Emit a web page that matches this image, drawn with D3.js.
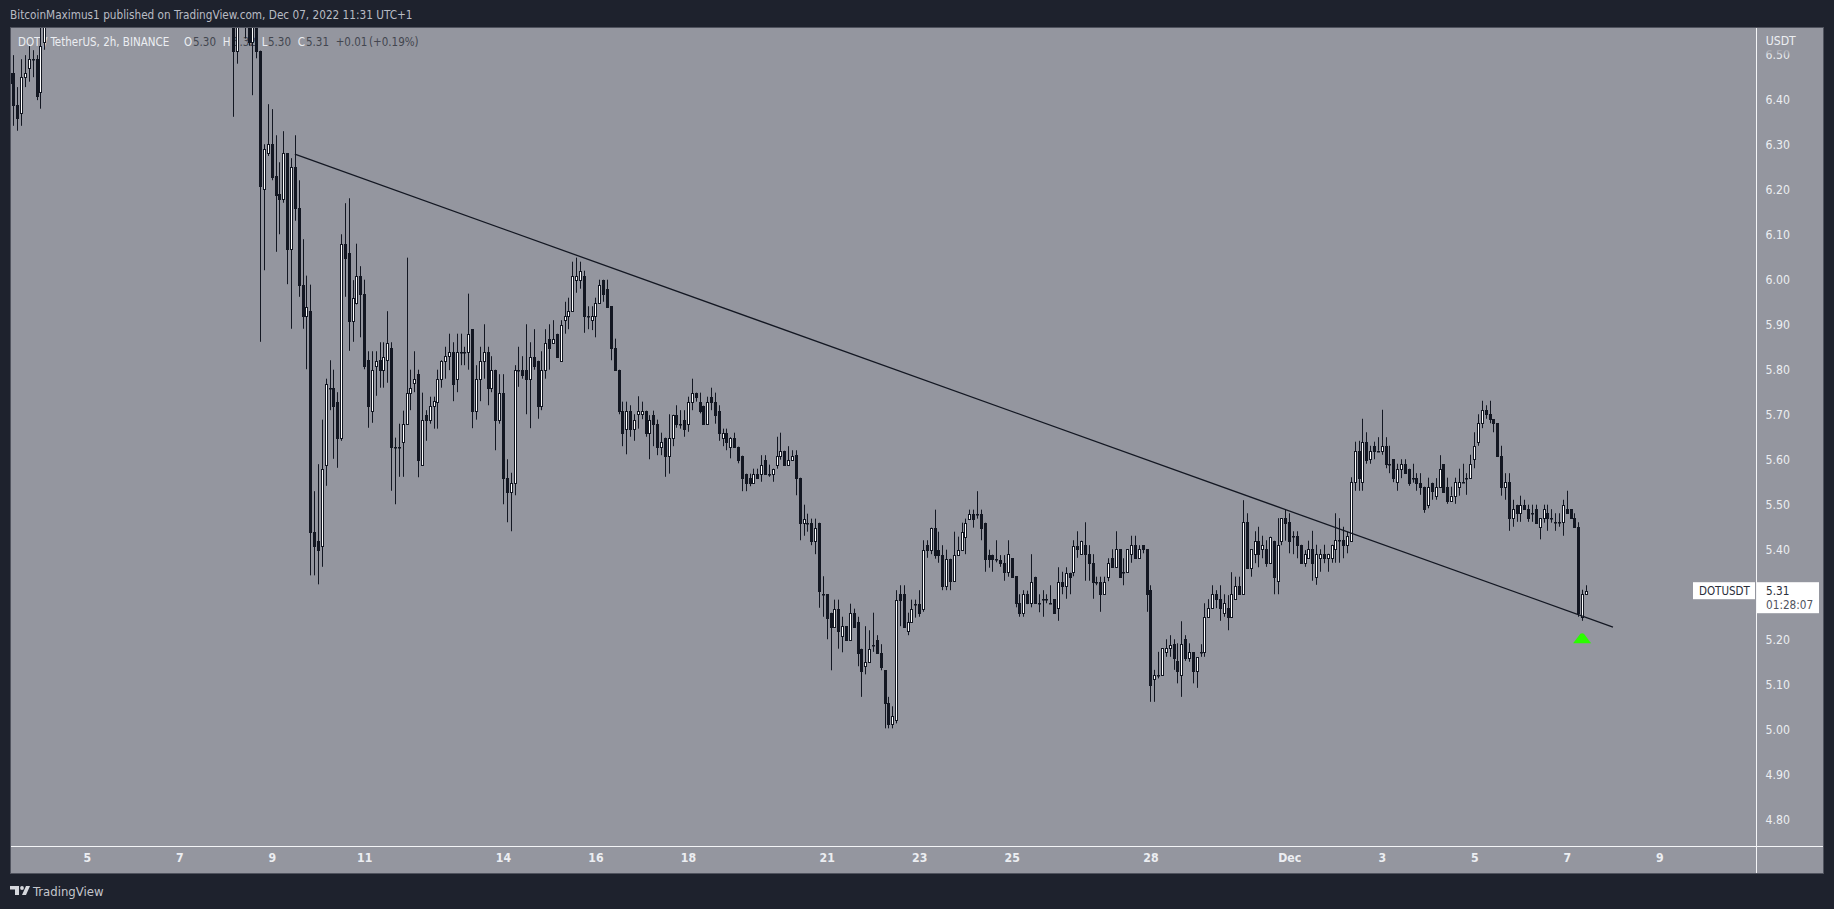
<!DOCTYPE html>
<html>
<head>
<meta charset="utf-8">
<script src="https://cdn.jsdelivr.net/npm/d3@7"></script>
<style>
  html, body { margin: 0; padding: 0; background: #1e222d; }
  svg { display: block; }
  text { font-family: "DejaVu Sans Condensed", "DejaVu Sans", sans-serif; }
</style>
</head>
<body>
<svg id="chart" width="1834" height="909"></svg>
<script>
// 2h candles, two visible runs (everything between them sits above the top of the chart)
const firstRunStart = Date.UTC(2022, 10, 3, 8)
const secondRunStart = Date.UTC(2022, 10, 8, 4)
const firstRunLength = 10
const twoHours = 2 * 3600 * 1000

const opens = [
  6.438,6.459,6.388,6.370,6.450,6.470,6.490,6.490,6.418,6.529,
  6.700,6.509,6.700,6.700,6.650,6.529,6.650,6.509,6.201,6.281,6.301,6.230,
  6.190,6.180,6.281,6.069,6.250,6.160,5.989,5.920,5.930,5.440,
  5.420,5.409,5.589,5.760,5.760,5.729,5.649,6.080,6.060,5.909,
  5.949,6.009,5.969,5.821,5.709,5.809,5.821,5.800,5.821,5.849,
  5.629,5.629,5.640,5.680,5.749,5.770,5.790,5.589,5.700,5.689,
  5.720,5.729,5.780,5.820,5.830,5.840,5.780,5.840,5.840,5.840,
  5.890,5.709,5.780,5.820,5.840,5.760,5.800,5.688,5.749,5.560,
  5.529,5.549,5.800,5.800,5.800,5.780,5.829,5.820,5.720,5.800,
  5.869,5.860,5.880,5.820,5.910,5.920,5.930,6.000,6.000,6.009,
  5.920,5.910,5.920,5.949,6.000,5.980,5.941,5.849,5.800,5.709,
  5.669,5.709,5.669,5.701,5.701,5.709,5.660,5.700,5.680,5.629,
  5.649,5.609,5.649,5.700,5.680,5.689,5.680,5.729,5.749,5.729,
  5.720,5.680,5.740,5.729,5.709,5.649,5.660,5.629,5.649,5.629,
  5.609,5.569,5.560,5.549,5.569,5.569,5.600,5.569,5.569,5.589,
  5.609,5.620,5.589,5.600,5.610,5.560,5.460,5.460,5.460,5.420,
  5.460,5.301,5.301,5.260,5.229,5.269,5.209,5.230,5.200,5.260,
  5.240,5.180,5.141,5.151,5.189,5.200,5.171,5.132,5.060,5.012,
  5.021,5.301,5.301,5.220,5.240,5.280,5.280,5.269,5.410,5.400,
  5.449,5.400,5.389,5.320,5.380,5.330,5.389,5.399,5.429,5.469,
  5.480,5.480,5.480,5.460,5.389,5.389,5.380,5.378,5.370,5.350,
  5.381,5.341,5.281,5.260,5.301,5.281,5.340,5.281,5.290,5.290,
  5.281,5.290,5.270,5.329,5.320,5.349,5.350,5.409,5.390,5.410,
  5.390,5.370,5.329,5.329,5.301,5.340,5.381,5.361,5.401,5.350,
  5.350,5.390,5.410,5.381,5.410,5.401,5.310,5.112,5.121,5.121,
  5.172,5.181,5.190,5.152,5.121,5.201,5.160,5.172,5.131,5.172,
  5.172,5.250,5.270,5.301,5.290,5.260,5.270,5.250,5.290,5.320,
  5.301,5.461,5.360,5.390,5.420,5.401,5.401,5.370,5.420,5.330,
  5.420,5.470,5.461,5.430,5.430,5.411,5.370,5.381,5.401,5.340,
  5.381,5.391,5.381,5.381,5.401,5.422,5.422,5.410,5.420,5.550,
  5.620,5.550,5.640,5.601,5.631,5.620,5.620,5.631,5.590,5.601,
  5.550,5.580,5.590,5.580,5.560,5.560,5.549,5.540,5.500,5.549,
  5.520,5.540,5.590,5.540,5.509,5.520,5.540,5.550,5.560,5.560,
  5.601,5.640,5.681,5.711,5.701,5.690,5.681,5.609,5.540,5.550,
  5.470,5.500,5.481,5.500,5.490,5.481,5.490,5.450,5.470,5.481,
  5.470,5.461,5.461,5.461,5.490,5.490,5.470,5.450,5.250,5.301
]
const highs = [
  6.481,6.499,6.428,6.490,6.499,6.519,6.510,6.499,6.561,6.700,
  6.700,6.720,6.750,6.750,6.680,6.700,6.680,6.509,6.301,6.390,6.379,6.321,
  6.261,6.330,6.281,6.270,6.321,6.221,6.090,6.009,5.989,5.530,
  5.590,5.689,5.780,5.821,5.800,5.750,6.101,6.170,6.181,5.999,
  6.080,6.030,6.000,5.841,5.841,5.841,5.861,5.861,5.930,5.861,
  5.649,5.680,5.709,6.049,5.800,5.841,5.800,5.749,5.710,5.740,
  5.740,5.800,5.821,5.851,5.880,5.861,5.880,5.880,5.851,5.969,
  5.890,5.810,5.851,5.901,5.851,5.830,5.800,5.790,5.790,5.601,
  5.571,5.810,5.851,5.830,5.901,5.861,5.890,5.820,5.841,5.890,
  5.901,5.910,5.880,5.910,5.951,5.960,6.040,6.049,6.040,6.020,
  5.941,5.941,5.960,6.000,6.000,6.000,5.941,5.869,5.800,5.729,
  5.729,5.721,5.701,5.741,5.729,5.709,5.699,5.709,5.689,5.660,
  5.649,5.701,5.700,5.721,5.710,5.710,5.740,5.780,5.749,5.749,
  5.720,5.740,5.760,5.749,5.721,5.669,5.669,5.650,5.660,5.629,
  5.609,5.569,5.569,5.580,5.580,5.610,5.610,5.589,5.580,5.651,
  5.660,5.620,5.630,5.621,5.621,5.560,5.500,5.480,5.469,5.469,
  5.460,5.341,5.301,5.260,5.289,5.289,5.251,5.230,5.280,5.269,
  5.251,5.180,5.230,5.221,5.260,5.210,5.190,5.132,5.073,5.052,
  5.310,5.321,5.321,5.260,5.289,5.289,5.310,5.421,5.421,5.449,
  5.489,5.440,5.410,5.400,5.380,5.440,5.429,5.460,5.469,5.489,
  5.489,5.530,5.489,5.460,5.400,5.389,5.421,5.388,5.388,5.421,
  5.381,5.341,5.301,5.310,5.309,5.390,5.340,5.301,5.310,5.301,
  5.321,5.290,5.361,5.351,5.361,5.349,5.421,5.441,5.420,5.461,
  5.410,5.390,5.340,5.340,5.340,5.381,5.401,5.441,5.401,5.381,
  5.401,5.431,5.431,5.410,5.410,5.401,5.321,5.133,5.173,5.181,
  5.201,5.210,5.201,5.192,5.241,5.210,5.192,5.172,5.161,5.190,
  5.281,5.290,5.321,5.310,5.321,5.301,5.299,5.350,5.340,5.340,
  5.510,5.481,5.401,5.441,5.451,5.431,5.421,5.429,5.420,5.470,
  5.470,5.490,5.481,5.441,5.441,5.411,5.399,5.420,5.442,5.411,
  5.401,5.411,5.391,5.411,5.481,5.470,5.451,5.440,5.561,5.640,
  5.642,5.691,5.661,5.631,5.640,5.650,5.711,5.650,5.631,5.601,
  5.591,5.601,5.601,5.580,5.591,5.570,5.570,5.540,5.560,5.549,
  5.559,5.610,5.590,5.560,5.540,5.560,5.580,5.591,5.570,5.611,
  5.661,5.701,5.731,5.721,5.731,5.690,5.681,5.631,5.570,5.570,
  5.511,5.500,5.520,5.511,5.500,5.500,5.500,5.470,5.500,5.500,
  5.490,5.481,5.481,5.511,5.531,5.490,5.481,5.461,5.311,5.321
]
const lows = [
  6.411,6.342,6.331,6.342,6.428,6.440,6.450,6.399,6.380,6.511,
  6.362,6.480,6.650,6.536,6.520,6.410,6.492,5.862,6.021,6.275,6.221,6.062,
  6.101,6.171,5.990,5.891,6.131,5.962,5.891,5.801,5.343,5.343,
  5.323,5.362,5.542,5.710,5.602,5.582,5.642,5.962,5.842,5.862,
  5.945,5.872,5.801,5.671,5.682,5.742,5.760,5.760,5.771,5.531,
  5.501,5.562,5.562,5.680,5.710,5.750,5.561,5.589,5.642,5.680,
  5.669,5.669,5.760,5.780,5.799,5.730,5.750,5.810,5.810,5.800,
  5.670,5.689,5.730,5.780,5.721,5.750,5.621,5.680,5.501,5.461,
  5.441,5.521,5.762,5.780,5.701,5.670,5.800,5.691,5.710,5.780,
  5.800,5.860,5.829,5.820,5.880,5.890,5.930,5.971,5.980,5.882,
  5.890,5.888,5.872,5.949,5.951,5.940,5.821,5.800,5.701,5.630,
  5.612,5.651,5.642,5.669,5.690,5.651,5.601,5.630,5.610,5.610,
  5.562,5.569,5.630,5.671,5.669,5.651,5.662,5.710,5.729,5.703,
  5.680,5.680,5.710,5.680,5.642,5.630,5.621,5.603,5.629,5.592,
  5.530,5.530,5.541,5.549,5.560,5.551,5.569,5.562,5.551,5.580,
  5.600,5.589,5.589,5.600,5.521,5.421,5.431,5.440,5.410,5.390,
  5.271,5.251,5.201,5.132,5.229,5.180,5.172,5.200,5.200,5.229,
  5.141,5.073,5.123,5.151,5.173,5.171,5.132,5.003,5.003,5.003,
  5.014,5.230,5.229,5.210,5.240,5.249,5.251,5.262,5.382,5.390,
  5.380,5.371,5.310,5.310,5.310,5.330,5.390,5.399,5.390,5.469,
  5.449,5.469,5.421,5.351,5.360,5.351,5.372,5.362,5.331,5.340,
  5.338,5.272,5.251,5.251,5.279,5.272,5.281,5.261,5.251,5.281,
  5.279,5.260,5.242,5.301,5.291,5.301,5.341,5.382,5.390,5.331,
  5.331,5.291,5.321,5.262,5.301,5.330,5.361,5.361,5.340,5.321,
  5.350,5.371,5.381,5.381,5.392,5.262,5.062,5.062,5.114,5.121,
  5.162,5.162,5.133,5.103,5.073,5.153,5.151,5.103,5.093,5.162,
  5.162,5.250,5.270,5.270,5.242,5.251,5.221,5.250,5.290,5.301,
  5.301,5.360,5.340,5.370,5.361,5.381,5.362,5.370,5.301,5.301,
  5.410,5.420,5.392,5.390,5.381,5.370,5.362,5.381,5.331,5.322,
  5.351,5.370,5.351,5.371,5.371,5.371,5.381,5.392,5.420,5.531,
  5.531,5.531,5.591,5.591,5.601,5.620,5.611,5.581,5.570,5.550,
  5.531,5.559,5.570,5.542,5.549,5.531,5.522,5.482,5.492,5.511,
  5.511,5.540,5.529,5.502,5.520,5.502,5.520,5.550,5.522,5.560,
  5.581,5.631,5.670,5.691,5.681,5.661,5.609,5.520,5.511,5.442,
  5.451,5.462,5.462,5.490,5.462,5.462,5.460,5.423,5.460,5.442,
  5.460,5.442,5.451,5.431,5.481,5.470,5.450,5.251,5.242,5.301
]
const closes = [
  6.459,6.388,6.360,6.450,6.459,6.490,6.490,6.408,6.519,6.650,
  6.509,6.700,6.720,6.650,6.529,6.650,6.509,6.209,6.290,6.301,6.229,6.189,
  6.180,6.281,6.069,6.250,6.160,5.989,5.920,5.940,5.440,5.409,
  5.399,5.580,5.769,5.760,5.720,5.649,6.080,6.049,5.909,5.960,
  6.009,5.969,5.809,5.720,5.800,5.820,5.800,5.829,5.860,5.629,
  5.629,5.629,5.680,5.749,5.760,5.780,5.599,5.689,5.688,5.720,
  5.730,5.780,5.820,5.830,5.840,5.769,5.840,5.840,5.840,5.880,
  5.709,5.780,5.820,5.840,5.760,5.800,5.688,5.749,5.560,5.529,
  5.549,5.800,5.800,5.789,5.780,5.829,5.809,5.720,5.799,5.860,
  5.849,5.869,5.829,5.900,5.920,5.930,6.009,6.009,6.020,5.920,
  5.920,5.920,5.949,5.989,5.969,5.940,5.849,5.800,5.709,5.660,
  5.709,5.669,5.689,5.709,5.709,5.660,5.688,5.680,5.629,5.640,
  5.609,5.649,5.700,5.680,5.680,5.669,5.729,5.749,5.740,5.709,
  5.680,5.729,5.729,5.700,5.660,5.660,5.640,5.649,5.629,5.599,
  5.560,5.549,5.549,5.569,5.560,5.589,5.569,5.569,5.580,5.609,
  5.620,5.589,5.600,5.609,5.560,5.460,5.469,5.460,5.420,5.449,
  5.309,5.301,5.249,5.229,5.269,5.220,5.230,5.200,5.260,5.229,
  5.171,5.131,5.151,5.180,5.189,5.171,5.140,5.060,5.012,5.031,
  5.289,5.289,5.229,5.240,5.269,5.280,5.260,5.400,5.400,5.449,
  5.389,5.389,5.319,5.380,5.330,5.389,5.399,5.440,5.460,5.479,
  5.469,5.480,5.449,5.380,5.380,5.380,5.380,5.370,5.350,5.390,
  5.340,5.281,5.260,5.301,5.281,5.329,5.281,5.281,5.290,5.290,
  5.281,5.260,5.329,5.320,5.349,5.340,5.409,5.401,5.420,5.390,
  5.370,5.329,5.329,5.301,5.329,5.370,5.361,5.401,5.340,5.350,
  5.401,5.410,5.381,5.401,5.401,5.301,5.100,5.121,5.121,5.181,
  5.181,5.189,5.160,5.131,5.190,5.160,5.172,5.131,5.161,5.172,
  5.250,5.270,5.301,5.290,5.270,5.281,5.250,5.301,5.320,5.301,
  5.461,5.360,5.401,5.420,5.390,5.410,5.370,5.429,5.340,5.410,
  5.470,5.460,5.420,5.430,5.410,5.370,5.391,5.401,5.370,5.391,
  5.391,5.381,5.391,5.411,5.422,5.422,5.410,5.431,5.550,5.620,
  5.560,5.640,5.599,5.620,5.620,5.620,5.631,5.590,5.590,5.560,
  5.580,5.590,5.570,5.549,5.560,5.549,5.540,5.490,5.540,5.531,
  5.540,5.580,5.529,5.509,5.520,5.550,5.550,5.550,5.560,5.590,
  5.631,5.681,5.711,5.701,5.690,5.681,5.609,5.540,5.550,5.470,
  5.490,5.481,5.500,5.490,5.470,5.481,5.460,5.470,5.490,5.470,
  5.470,5.461,5.461,5.500,5.481,5.470,5.450,5.259,5.301,5.309
]

const dateTicks = [[2022,10,5],[2022,10,7],[2022,10,9],[2022,10,11],[2022,10,14],[2022,10,16],[2022,10,18],[2022,10,21],[2022,10,23],[2022,10,25],[2022,10,28],[2022,11,1],[2022,11,3],[2022,11,5],[2022,11,7],[2022,11,9]]
const dateLabels = ['5','7','9','11','14','16','18','21','23','25','28','Dec','3','5','7','9']
// 5.30 is left out, the last price tag covers it
const priceTicks = [6.5,6.4,6.3,6.2,6.1,6.0,5.9,5.8,5.7,5.6,5.5,5.4,5.2,5.1,5.0,4.9,4.8]

const trendTimes = [Date.UTC(2022,10,9,12), Date.UTC(2022,11,8,0)]
const trendPrices = [6.279, 5.228]
const signalTime = Date.UTC(2022,11,7,8)
const signalPrice = 5.2

const lastPrice = 5.31

const fontName = '"DejaVu Sans Condensed", "DejaVu Sans", sans-serif'
const bg = '#1e222d', pane = '#94969f', ink = '#131722', light = '#eceef2'

const xScale = d3.scaleUtc()
  .domain([Date.UTC(2022,10,5), Date.UTC(2022,11,9)])
  .range([86.7, 1659.2])

const yScale = d3.scaleLinear()
  .domain([6.4, 4.8])
  .range([99.7, 819.7])

const bars = opens.map((o, i) => ({
  t: i < firstRunLength ? firstRunStart + i * twoHours : secondRunStart + (i - firstRunLength) * twoHours,
  o, h: highs[i], l: lows[i], c: closes[i]
}))

const svg = d3.select('#chart')
const defs = svg.append('defs')

defs.append('clipPath').attr('id', 'pane')
  .append('rect').attr('x', 11).attr('y', 28).attr('width', 1745).attr('height', 818)

const fade = defs.append('linearGradient').attr('id', 'fade').attr('x1', 0).attr('y1', 0).attr('x2', 0).attr('y2', 1)
fade.append('stop').attr('offset', '75%').attr('stop-color', pane).attr('stop-opacity', 1)
fade.append('stop').attr('offset', '100%').attr('stop-color', pane).attr('stop-opacity', 0)

svg.append('rect').attr('width', 1834).attr('height', 909).attr('fill', bg)

// header
svg.append('text').attr('x', 10).attr('y', 19)
  .attr('font-size', '11.7px').attr('fill', '#b9bcc4')
  .text('BitcoinMaximus1 published on TradingView.com, Dec 07, 2022 11:31 UTC+1')

// pane
svg.append('rect').attr('x', 10.5).attr('y', 27.5).attr('width', 1813).attr('height', 846)
  .attr('fill', pane).attr('stroke', '#50535e')

// legend, the candles are painted over it
const legend = [
  ['DOT / TetherUS, 2h, BINANCE', 18, light], ['O', 184, light], ['5.30', 193, '#43464f'],
  ['H', 222.7, light], ['5.32', 233, '#43464f'], ['L', 261.7, light], ['5.30', 268, '#43464f'],
  ['C', 297.7, light], ['5.31', 306, '#43464f'], ['+0.01', 335.7, '#43464f'], ['(+0.19%)', 369, '#43464f']
]
svg.append('g').selectAll('text').data(legend).enter().append('text')
  .attr('x', d => d[1]).attr('y', 46)
  .attr('font-size', '11.5px').attr('fill', d => d[2])
  .text(d => d[0])

// candles
const candles = svg.append('g').attr('clip-path', 'url(#pane)')
const snap = d => Math.round(xScale(d.t)) + 0.5

candles.selectAll('line').data(bars).enter().append('line')
  .attr('x1', snap).attr('x2', snap)
  .attr('y1', d => yScale(d.h)).attr('y2', d => yScale(d.l))
  .attr('stroke', ink).attr('stroke-width', 1)

candles.selectAll('rect').data(bars).enter().append('rect')
  .attr('x', d => snap(d) - 1)
  .attr('width', 2)
  .attr('y', d => Math.round(yScale(Math.max(d.o, d.c))) + 0.5)
  .attr('height', d => Math.max(Math.round(yScale(Math.min(d.o, d.c))) - Math.round(yScale(Math.max(d.o, d.c))), 0.5))
  .attr('fill', d => d.c >= d.o ? '#ffffff' : ink)
  .attr('stroke', ink).attr('stroke-width', 1)

// trend line
svg.append('line')
  .attr('x1', xScale(trendTimes[0])).attr('y1', yScale(trendPrices[0]))
  .attr('x2', xScale(trendTimes[1])).attr('y2', yScale(trendPrices[1]))
  .attr('stroke', ink).attr('stroke-width', 1.3)

// green arrow up
svg.append('path')
  .attr('transform', `translate(${xScale(signalTime)},${yScale(signalPrice)})`)
  .attr('d', 'M-9,3.6 L-1.8,-6 Q0,-6.8 1.8,-6 L9,3.6 Z')
  .attr('fill', '#2bfc00')

// price axis
const yAxis = d3.axisRight(yScale).tickValues(priceTicks).tickSize(0).tickPadding(9).tickFormat(d3.format('.2f'))
const yAxisG = svg.append('g').attr('transform', 'translate(1756.5,0)').call(yAxis)
yAxisG.select('.domain').remove()
yAxisG.selectAll('text').attr('font-size', '12.2px').attr('font-family', fontName).attr('fill', light)

svg.append('rect').attr('x', 1758).attr('y', 28).attr('width', 65).attr('height', 28).attr('fill', 'url(#fade)')
svg.append('text').attr('x', 1765.7).attr('y', 45).attr('font-size', '12.2px').attr('fill', light).text('USDT')

// time axis
const xAxis = d3.axisBottom(xScale)
  .tickValues(dateTicks.map(d => new Date(Date.UTC(d[0], d[1], d[2]))))
  .tickSize(0).tickPadding(7)
  .tickFormat((d, i) => dateLabels[i])
const xAxisG = svg.append('g').attr('transform', 'translate(0,846.5)').call(xAxis)
xAxisG.select('.domain').remove()
xAxisG.selectAll('text').attr('font-size', '12.2px').attr('font-weight', 600).attr('font-family', fontName).attr('fill', light)

svg.append('line').attr('x1', 1756.5).attr('x2', 1756.5).attr('y1', 28).attr('y2', 873).attr('stroke', '#f4f5f7')
svg.append('line').attr('x1', 11).attr('x2', 1823).attr('y1', 846.5).attr('y2', 846.5).attr('stroke', '#f4f5f7')

// last price tags
const tagY = yScale(lastPrice)
svg.append('rect').attr('x', 1693).attr('y', tagY - 8).attr('width', 62).attr('height', 17).attr('fill', '#fff')
svg.append('rect').attr('x', 1757).attr('y', tagY - 8).attr('width', 62).attr('height', 31).attr('fill', '#fff')
svg.append('text').attr('x', 1699).attr('y', tagY + 5).attr('font-size', '11.5px').attr('fill', '#2a2e39').text('DOTUSDT')
svg.append('text').attr('x', 1766).attr('y', tagY + 5).attr('font-size', '11.7px').attr('fill', '#2a2e39').text(lastPrice.toFixed(2))
svg.append('text').attr('x', 1766).attr('y', tagY + 19).attr('font-size', '11.7px').attr('fill', '#50535e').text('01:28:07')

// footer
svg.append('path').attr('d', 'M10,886 H19 V895 H15 V889.5 H10 Z M22,895 L26,886 H30 L26,895 Z').attr('fill', '#d6d8dd')
svg.append('circle').attr('cx', 22).attr('cy', 888).attr('r', 1.9).attr('fill', '#d6d8dd')
svg.append('text').attr('x', 33).attr('y', 896).attr('font-size', '13px').attr('fill', '#c4c6cc').text('TradingView')
</script>
</body>
</html>
